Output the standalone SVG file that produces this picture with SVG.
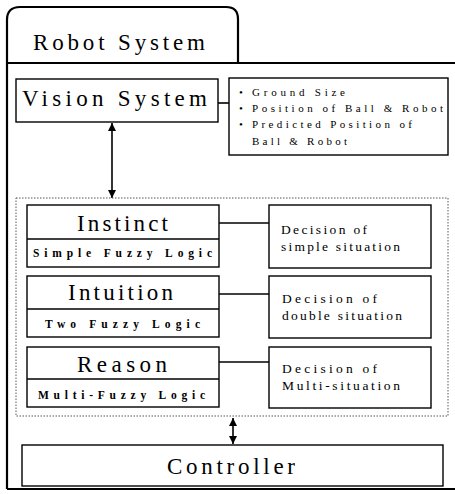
<svg xmlns="http://www.w3.org/2000/svg" width="455" height="494" viewBox="0 0 455 494" font-family="'Liberation Serif', serif">
<defs>
<style>
text{font-family:'Liberation Serif',serif;fill:#000}
.box{fill:#fff;stroke:#000;stroke-width:1.4}
.frame{fill:none;stroke:#000;stroke-width:2.2}
.dot{fill:none;stroke:#555;stroke-width:1;stroke-dasharray:1.5 1.5}
.con{fill:none;stroke:#000;stroke-width:1.6}
.big{font-size:23px}
.sub{font-size:11.5px;font-weight:bold}
.sm{font-size:11px}
.dec{font-size:13.5px}
</style>
<marker id="ah" viewBox="0 0 10 10" refX="10" refY="5" markerWidth="8" markerHeight="8" markerUnits="userSpaceOnUse" orient="auto-start-reverse">
<path d="M0,0 L10,5 L0,10 z" fill="#000"/>
</marker>
</defs>
<rect width="455" height="494" fill="#fff"/>
<g id="robot-system">
<path class="frame" d="M7,489 V20 Q7,7 20,7 H226 Q238,7 238,19 V63"/>
<path class="frame" d="M7,63 H456 M7,489 H456"/>
<text class="big" x="33" y="50" textLength="172" lengthAdjust="spacing">Robot System</text>
</g>
<g id="connectors">
<line class="con" x1="218" y1="103" x2="229" y2="103"/>
<line class="con" x1="112" y1="123" x2="112" y2="198" marker-start="url(#ah)" marker-end="url(#ah)"/>
<line class="con" x1="219" y1="223" x2="269" y2="223"/>
<line class="con" x1="219" y1="294" x2="269" y2="294"/>
<line class="con" x1="219" y1="362" x2="269" y2="362"/>
<line class="con" x1="233" y1="418" x2="233" y2="444" marker-start="url(#ah)" marker-end="url(#ah)"/>
</g>
<g id="vision-system">
<rect class="box" x="16" y="79" width="202" height="43"/>
<text class="big" x="22" y="106" textLength="185" lengthAdjust="spacing">Vision System</text>
</g>
<g id="vision-info">
<rect class="box" x="229" y="78" width="219" height="77"/>
<text class="sm" x="239" y="96">•</text>
<text class="sm" x="252" y="96" textLength="93" lengthAdjust="spacing">Ground Size</text>
<text class="sm" x="239" y="112">•</text>
<text class="sm" x="252" y="112" textLength="191" lengthAdjust="spacing">Position of Ball &amp; Robot</text>
<text class="sm" x="239" y="128">•</text>
<text class="sm" x="252" y="128" textLength="160" lengthAdjust="spacing">Predicted Position of</text>
<text class="sm" x="252" y="145" textLength="95" lengthAdjust="spacing">Ball &amp; Robot</text>
</g>
<g id="decision-module">
<rect class="dot" x="16" y="198" width="432" height="218"/>
</g>
<g id="instinct">
<rect class="box" x="27" y="205" width="192" height="62"/>
<line class="box" x1="27" y1="239" x2="219" y2="239"/>
<text class="big" x="77" y="231" textLength="91" lengthAdjust="spacing">Instinct</text>
<text class="sub" x="33" y="257" textLength="179" lengthAdjust="spacing">Simple Fuzzy Logic</text>
</g>
<g id="intuition">
<rect class="box" x="27" y="276" width="192" height="61"/>
<line class="box" x1="27" y1="309" x2="219" y2="309"/>
<text class="big" x="68" y="300" textLength="105" lengthAdjust="spacing">Intuition</text>
<text class="sub" x="45" y="328" textLength="155" lengthAdjust="spacing">Two Fuzzy Logic</text>
</g>
<g id="reason">
<rect class="box" x="27" y="347" width="192" height="60"/>
<line class="box" x1="27" y1="379" x2="219" y2="379"/>
<text class="big" x="77" y="372" textLength="90" lengthAdjust="spacing">Reason</text>
<text class="sub" x="38" y="399" textLength="167" lengthAdjust="spacing">Multi-Fuzzy Logic</text>
</g>
<g id="decision-simple">
<rect class="box" x="269" y="205" width="162" height="63"/>
<text class="dec" x="281" y="234" textLength="86" lengthAdjust="spacing">Decision of</text>
<text class="dec" x="281" y="251" textLength="119" lengthAdjust="spacing">simple situation</text>
</g>
<g id="decision-double">
<rect class="box" x="269" y="276" width="162" height="62"/>
<text class="dec" x="282" y="303" textLength="95" lengthAdjust="spacing">Decision of</text>
<text class="dec" x="282" y="320" textLength="120" lengthAdjust="spacing">double situation</text>
</g>
<g id="decision-multi">
<rect class="box" x="269" y="347" width="162" height="61"/>
<text class="dec" x="282" y="373" textLength="95" lengthAdjust="spacing">Decision of</text>
<text class="dec" x="282" y="390" textLength="118" lengthAdjust="spacing">Multi-situation</text>
</g>
<g id="controller">
<rect class="box" x="22" y="445" width="421" height="41"/>
<text class="big" x="167" y="474" textLength="128" lengthAdjust="spacing">Controller</text>
</g>
</svg>
